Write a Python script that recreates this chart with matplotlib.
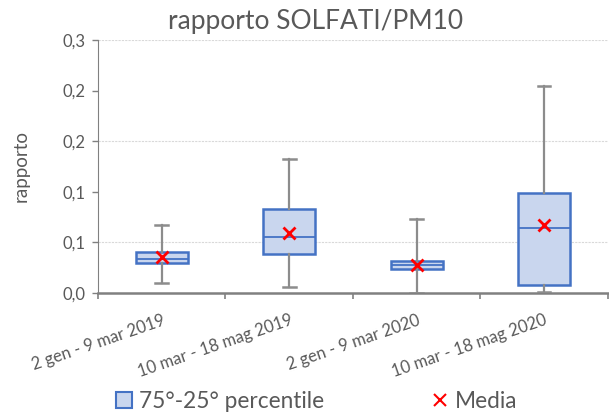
import matplotlib.pyplot as plt
from matplotlib.patches import Patch
from matplotlib.lines import Line2D
from matplotlib.ticker import FixedLocator

plt.rcParams['font.family'] = ['Lato', 'DejaVu Sans']

# dati
periodi = ["2 gen - 9 mar 2019", "10 mar - 18 mag 2019",
           "2 gen - 9 mar 2020", "10 mar - 18 mag 2020"]
minimo = [0.0099, 0.0059, 0.0000, 0.0014]
q1 = [0.0296, 0.0385, 0.0234, 0.0083]
mediana = [0.0340, 0.0557, 0.0277, 0.0646]
q3 = [0.0402, 0.0827, 0.0316, 0.0985]
massimo = [0.0676, 0.1328, 0.0731, 0.2045]
media = [0.0353, 0.0597, 0.0280, 0.0672]

y_ticks = [0.0, 0.05, 0.10, 0.15, 0.20, 0.25]
y_labels = ["0,0", "0,1", "0,1", "0,2", "0,2", "0,3"]

grigio = "#595959"
blu = "#4472C4"

stats = []
for i in range(len(periodi)):
    stats.append(dict(whislo=minimo[i], q1=q1[i], med=mediana[i], q3=q3[i],
                      whishi=massimo[i], fliers=[], label=periodi[i]))

fig = plt.figure(figsize=(6.09, 4.12), dpi=100)
ax = fig.add_axes([0.161, 0.289, 0.837, 0.614])

pos = list(range(1, len(periodi) + 1))
ax.bxp(stats, positions=pos, widths=0.41, patch_artist=True, showfliers=False,
       capwidths=0.1,
       boxprops=dict(facecolor="#C9D6EE", edgecolor=blu, linewidth=1.8),
       medianprops=dict(color=blu, linewidth=1.3),
       whiskerprops=dict(color="#8C8C8C", linewidth=1.6),
       capprops=dict(color="#8C8C8C", linewidth=1.8),
       zorder=3)
ax.plot(pos, media, linestyle="none", marker="x", color="#FF0000",
        markersize=9, markeredgewidth=2, zorder=4)

ax.set_xlim(0.5, len(periodi) + 0.5)
ax.set_ylim(0, 0.25)
ax.set_yticks(y_ticks)
ax.set_yticklabels(y_labels)
for g in [0.05, 0.15, 0.25]:
    ax.axhline(g, color="#D9D9D9", linewidth=0.8, linestyle=(0, (2, 1)), zorder=0)

ax.set_xticks(pos)
ax.set_xticklabels(periodi, rotation=19, ha="right", va="top",
                   rotation_mode="anchor", fontsize=12, color=grigio)
ax.xaxis.set_minor_locator(FixedLocator([0.5, 1.5, 2.5, 3.5, 4.5]))
ax.tick_params(axis="x", which="major", length=0, pad=14)
ax.tick_params(axis="x", which="minor", length=4, width=1.2, color="#808080")
ax.tick_params(axis="y", length=4, width=1, color="#808080", labelsize=12,
               labelcolor=grigio, pad=5)

for s in ["top", "right"]:
    ax.spines[s].set_visible(False)
ax.spines["left"].set_color("#808080")
ax.spines["bottom"].set_color("#808080")
ax.spines["bottom"].set_linewidth(1.8)

ax.set_ylabel("rapporto", fontsize=13.5, color=grigio, labelpad=24)
fig.text(0.518, 0.947, "rapporto SOLFATI/PM10", ha="center", va="center",
         fontsize=19, color=grigio)

handles = [Patch(facecolor="#C9D6EE", edgecolor=blu, linewidth=1.5),
           Line2D([], [], linestyle="none", marker="x", color="#FF0000",
                  markersize=8, markeredgewidth=1.5)]
fig.legend(handles, ["75°-25° percentile", "Media"], loc="center",
           bbox_to_anchor=(0.52, 0.025), ncol=2, frameon=False, fontsize=16.3,
           labelcolor=grigio, columnspacing=4.8, handlelength=0.7,
           handletextpad=0.3)

fig.savefig("out.png", dpi=100)
